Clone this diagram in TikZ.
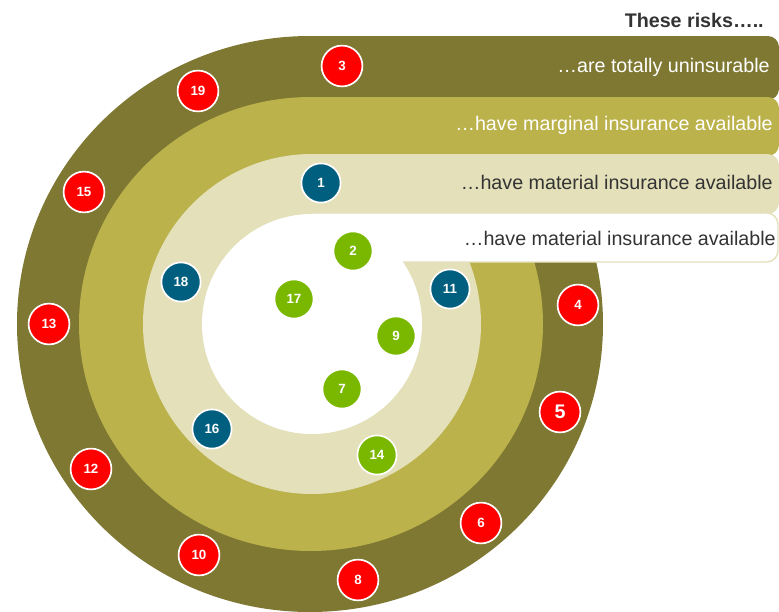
\documentclass[tikz,border=0pt]{standalone}
\usepackage{fontspec}
\setmainfont{Liberation Sans}
\definecolor{RingDark}{RGB}{127,120,50}
\definecolor{RingOlive}{RGB}{188,178,76}
\definecolor{RingPale}{RGB}{227,224,186}
\definecolor{RiskRed}{RGB}{255,0,0}
\definecolor{RiskBlue}{RGB}{0,95,127}
\definecolor{RiskGreen}{RGB}{122,184,0}
\definecolor{LabelGrey}{RGB}{51,51,51}

\begin{document}
\begin{tikzpicture}[x=0.025cm, y=-0.025cm,
  risk/.style={circle, draw=white, line width=1.2pt, minimum size=1.02cm,
    inner sep=0pt, text=white, font=\fontsize{9.5}{9.5}\selectfont\bfseries},
  red risk/.style={risk, fill=RiskRed},
  blue risk/.style={risk, fill=RiskBlue, minimum size=0.98cm},
  green risk/.style={risk, fill=RiskGreen, minimum size=0.98cm},
  bandtext/.style={anchor=east, inner sep=0pt, font=\fontsize{14}{16}\selectfont}]

\useasboundingbox (0,0) rectangle (779,612);

% rings and their bands, outside in
\fill[RingDark] (310,324) ellipse [x radius=293, y radius=288];
\fill[RingDark] (310,36) [rounded corners=8pt] -- (779,36) -- (779,100)
      [sharp corners] -- (310,100) -- cycle;

\fill[RingOlive] (311,324) ellipse [x radius=232, y radius=227];
\fill[RingOlive] (311,97) [rounded corners=8pt] -- (779,97) -- (779,156)
      [sharp corners] -- (311,156) -- cycle;

\fill[RingPale] (312,324) ellipse [x radius=169, y radius=170];
\fill[RingPale] (312,154) [rounded corners=8pt] -- (779,154) -- (779,214)
      [sharp corners] -- (312,214) -- cycle;

\draw[RingPale, fill=white, line width=1pt] (312,213) [rounded corners=8pt] -- (778,213) -- (778,262)
      [sharp corners] -- (312,262) -- cycle;
\fill[white] (312,324) circle [radius=110];

% labels
\node[anchor=east, inner sep=0pt, text=LabelGrey, font=\fontsize{14}{16}\selectfont\bfseries] (title) at (764,20) {These risks…..};
\node[bandtext, text=white] (uninsurable) at (770,67) {…are totally uninsurable};
\node[bandtext, text=white] (marginal) at (773,125) {…have marginal insurance available};
\node[bandtext, text=LabelGrey] (material) at (773,182) {…have material insurance available};
\node[bandtext, text=LabelGrey] (inner) at (776,238) {…have material insurance available};

% risks
\node[red risk] (risk3) at (342,66) {3};
\node[red risk] (risk19) at (198,91) {19};
\node[red risk] (risk15) at (84,192) {15};
\node[red risk] (risk13) at (49,324) {13};
\node[red risk] (risk12) at (91,469) {12};
\node[red risk] (risk10) at (199,555) {10};
\node[red risk] (risk8) at (358,580) {8};
\node[red risk] (risk6) at (481,523) {6};
\node[red risk, font=\fontsize{14}{14}\selectfont\bfseries] (risk5) at (560,412) {5};
\node[red risk] (risk4) at (578,305) {4};

\node[blue risk] (risk1) at (321,183) {1};
\node[blue risk] (risk18) at (181,282) {18};
\node[blue risk] (risk16) at (212,429) {16};
\node[blue risk] (risk11) at (450,289) {11};

\node[green risk] (risk2) at (353,251) {2};
\node[green risk] (risk17) at (294,299) {17};
\node[green risk] (risk9) at (396,336) {9};
\node[green risk] (risk7) at (342,389) {7};
\node[green risk] (risk14) at (377,455) {14};

\end{tikzpicture}
\end{document}
